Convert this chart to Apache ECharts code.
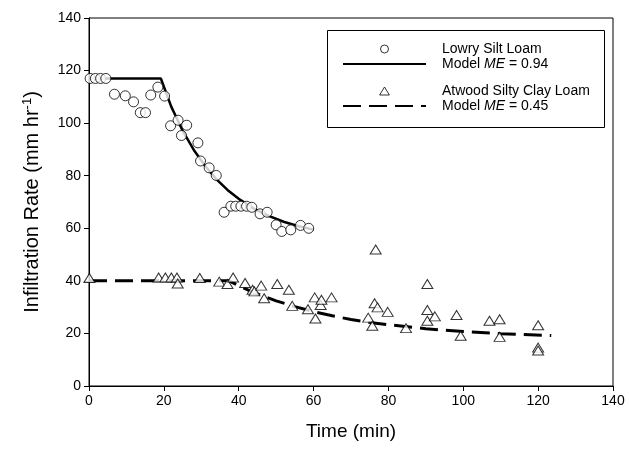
<!DOCTYPE html>
<html>
<head>
<meta charset="utf-8">
<script src="https://cdn.jsdelivr.net/npm/echarts@6/dist/echarts.min.js"></script>
<style>
html, body { margin: 0; padding: 0; background: #fff; }
#chart { width: 629px; height: 449px; }
</style>
</head>
<body>
<div id="chart"></div>
<script>
// values
var lowryTime = [0.3, 1.7, 3.1, 4.5, 6.8, 9.7, 11.9, 13.7, 15.1, 16.5, 18.4, 20.2, 21.8, 23.8, 24.7, 26.1, 29.1, 29.8, 32.1, 34, 36.1, 37.9, 39.2, 40.6, 42.1, 43.5, 45.7, 47.6, 50, 51.5, 53.9, 56.5, 58.7];
var lowryRate = [117, 117, 117, 117, 111, 110.4, 108.1, 104, 104, 110.7, 113.7, 110.3, 99, 101.1, 95.3, 99.2, 92.5, 85.6, 83, 80.1, 66.1, 68.4, 68.4, 68.4, 68.4, 68, 65.5, 66.1, 61.3, 58.8, 59.4, 61.1, 60];

var atwoodTime = [0.1, 18.6, 20.4, 22, 23.5, 23.7, 29.6, 34.8, 37, 38.5, 41.7, 43.7, 44.2, 46, 46.8, 50.3, 53.4, 54.3, 58.5, 60.3, 60.5, 61.9, 62.1, 64.8, 74.6, 75.7, 76.3, 76.6, 77.1, 79.8, 84.7, 90.4, 90.4, 90.4, 92.4, 98.2, 99.3, 107, 109.7, 109.7, 120, 120, 120];
var atwoodRate = [41.1, 41.3, 41.3, 41.3, 41.3, 39, 41.1, 39.7, 38.8, 41.3, 39.2, 36.6, 36, 38.2, 33.4, 38.8, 36.6, 30.5, 29.2, 33.7, 25.7, 30.8, 32.8, 33.7, 26, 22.9, 31.5, 51.9, 29.9, 28.2, 22, 38.8, 28.9, 24.8, 26.5, 27, 19.1, 24.8, 25.4, 18.7, 23.1, 14.6, 13.5];

var lowryModelTime = [0, 19.2, 22, 25, 28, 31, 34, 37, 40, 44, 48, 52, 56, 60];
var lowryModelRate = [117, 117, 106.2, 97.2, 89.8, 83.8, 78.7, 74.6, 71.2, 67.5, 64.7, 62.5, 60.8, 59.5];

var atwoodModelTime = [0, 37.4, 40, 43, 46, 50, 55, 60, 65, 70, 75, 80, 90, 100, 110, 123.5];
var atwoodModelRate = [40, 40, 38.2, 36.2, 34.5, 32.4, 30.2, 28.3, 26.7, 25.3, 24.2, 23.3, 21.8, 20.7, 19.9, 19.2];

function pairs(xs, ys) {
    var out = [];
    for (var i = 0; i < xs.length; i++) out.push([xs[i], ys[i]]);
    return out;
}

var font = 'Liberation Sans, Arial, sans-serif';
var myChart = echarts.init(document.getElementById('chart'));

var legendText = {
    fontFamily: font,
    fontSize: 14,
    color: '#000',
    rich: {
        sp: { width: 11 },
        n: { fontFamily: font, fontSize: 14, color: '#000' },
        i: { fontFamily: font, fontSize: 14, color: '#000', fontStyle: 'italic' }
    }
};
function legendFmt(name) {
    return '{sp|}{n|' + name.replace('ME', '}{i|ME}{n|') + '}';
}
var markStyle = { color: '#fff', borderColor: '#000', borderWidth: 1 };

option = {
    animation: false,
    backgroundColor: '#fff',
    grid: { left: 89, right: 16, top: 18, bottom: 63, show: true, borderColor: '#000', borderWidth: 1 },
    xAxis: {
        type: 'value', min: 0, max: 140, interval: 20,
        name: 'Time (min)', nameLocation: 'middle', nameGap: 36,
        nameTextStyle: { fontFamily: font, fontSize: 19, color: '#000' },
        axisLine: { lineStyle: { color: '#000', width: 1 } },
        axisTick: { inside: false, length: 5, lineStyle: { color: '#000' } },
        axisLabel: { fontFamily: font, fontSize: 14, color: '#000', margin: 8 },
        splitLine: { show: false }
    },
    yAxis: {
        type: 'value', min: 0, max: 140, interval: 20,
        name: '{a|Infiltration Rate (mm hr}{s|-1}{a|)}', nameLocation: 'middle', nameGap: 46, nameRotate: 90,
        nameTextStyle: {
            rich: {
                a: { fontFamily: font, fontSize: 20, color: '#000', lineHeight: 22 },
                s: { fontFamily: font, fontSize: 13, color: '#000', lineHeight: 22, verticalAlign: 'top', padding: [0, 0, 8, 0] }
            }
        },
        axisLine: { lineStyle: { color: '#000', width: 1 } },
        axisTick: { inside: false, length: 5, lineStyle: { color: '#000' } },
        axisLabel: { fontFamily: font, fontSize: 14, color: '#000', margin: 8 },
        splitLine: { show: false }
    },
    legend: [{
        data: [
            { name: 'Lowry Silt Loam', icon: 'circle', itemStyle: markStyle },
            { name: 'Model ME = 0.94', itemStyle: { opacity: 0 } }
        ],
        orient: 'vertical', left: 337, top: 37, itemWidth: 83, itemHeight: 8, itemGap: 1,
        formatter: legendFmt, textStyle: legendText, selectedMode: false
    }, {
        data: [
            { name: 'Atwood Silty Clay Loam', icon: 'path://M0,9L5.5,0L11,9Z', itemStyle: markStyle },
            { name: 'Model ME = 0.45', itemStyle: { opacity: 0 } }
        ],
        orient: 'vertical', left: 337, top: 79, itemWidth: 83, itemHeight: 8, itemGap: 1,
        formatter: legendFmt, textStyle: legendText, selectedMode: false
    }],
    graphic: [{
        type: 'rect', left: 327, top: 30,
        shape: { width: 277, height: 97 },
        style: { fill: 'transparent', stroke: '#000', lineWidth: 1 }
    }],
    series: [{
        name: 'Model ME = 0.94', type: 'line', data: pairs(lowryModelTime, lowryModelRate),
        symbol: 'none', itemStyle: { color: '#000' }, lineStyle: { color: '#000', width: 2.5 }, z: 2
    }, {
        name: 'Model ME = 0.45', type: 'line', data: pairs(atwoodModelTime, atwoodModelRate),
        symbol: 'none', itemStyle: { color: '#000' }, lineStyle: { color: '#000', width: 3, type: [18, 8] }, z: 2
    }, {
        name: 'Lowry Silt Loam', type: 'scatter', data: pairs(lowryTime, lowryRate),
        symbol: 'circle', symbolSize: 10, itemStyle: markStyle, z: 3
    }, {
        name: 'Atwood Silty Clay Loam', type: 'scatter', data: pairs(atwoodTime, atwoodRate),
        symbol: 'triangle', symbolSize: [11, 9], itemStyle: markStyle, z: 3
    }]
};

if (option && typeof option === "object") {
    myChart.setOption(option, true);
}
</script>
</body>
</html>
